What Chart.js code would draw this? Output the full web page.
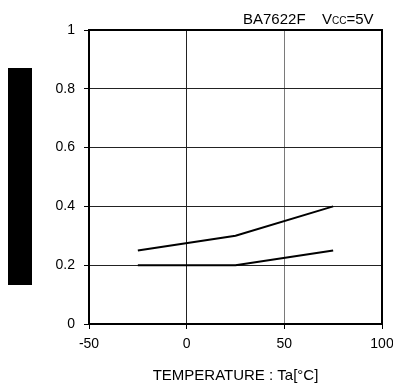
<!DOCTYPE html>
<html>
<head>
<meta charset="utf-8">
<script src="https://cdn.jsdelivr.net/npm/chart.js@4/dist/chart.umd.min.js"></script>
<style>
html,body{margin:0;padding:0;background:#fff;}
#c{display:block;}
</style>
</head>
<body>
<canvas id="c" width="393" height="389"></canvas>
<script>
// Data
const temperatures = [-25, 25, 75];
const upperSeries = [0.25, 0.30, 0.40];
const lowerSeries = [0.20, 0.20, 0.25];
const xTickValues = [-50, 0, 50, 100];
const yTickValues = [0, 0.2, 0.4, 0.6, 0.8, 1];
const chartTitle = "BA7622F";
const supplyLabel = ["V", "CC", "=5V"];
const xAxisTitle = "TEMPERATURE : Ta[°C]";

const FONT = "Liberation Sans, Arial, sans-serif";

const extras = {
  id: 'extras',
  beforeDraw(chart) {
    const ctx = chart.ctx;
    ctx.save();
    ctx.fillStyle = '#fff';
    ctx.fillRect(0, 0, chart.width, chart.height);
    // redaction block on the left
    ctx.fillStyle = '#000';
    ctx.fillRect(8, 68, 24, 217);
    ctx.restore();
  },
  afterDraw(chart) {
    const ctx = chart.ctx;
    const a = chart.chartArea;
    ctx.save();
    // frame
    ctx.strokeStyle = '#000';
    ctx.lineWidth = 2;
    ctx.strokeRect(a.left, a.top, a.right - a.left, a.bottom - a.top);
    // title
    ctx.fillStyle = '#000';
    ctx.textBaseline = 'alphabetic';
    ctx.textAlign = 'left';
    ctx.font = '15px ' + FONT;
    ctx.fillText(chartTitle, 243, 23.5);
    let x = 322;
    ctx.fillText(supplyLabel[0], x, 23.5);
    x += ctx.measureText(supplyLabel[0]).width;
    ctx.font = '10px ' + FONT;
    ctx.fillText(supplyLabel[1], x, 23.5);
    x += ctx.measureText(supplyLabel[1]).width;
    ctx.font = '15px ' + FONT;
    ctx.fillText(supplyLabel[2], x, 23.5);
    // x axis title
    ctx.textAlign = 'center';
    ctx.textBaseline = 'middle';
    ctx.font = '15px ' + FONT;
    ctx.fillText(xAxisTitle, (a.left + a.right) / 2, 376);
    ctx.restore();
  }
};

new Chart(document.getElementById('c'), {
  type: 'line',
  data: {
    datasets: [
      {
        data: temperatures.map((t, i) => ({x: t, y: upperSeries[i]})),
        borderColor: '#000', borderWidth: 2, pointRadius: 0, tension: 0, fill: false
      },
      {
        data: temperatures.map((t, i) => ({x: t, y: lowerSeries[i]})),
        borderColor: '#000', borderWidth: 2, pointRadius: 0, tension: 0, fill: false
      }
    ]
  },
  options: {
    responsive: false,
    animation: false,
    devicePixelRatio: 1,
    layout: {padding: {top: 30, right: 11, left: 0, bottom: 0}},
    plugins: {legend: {display: false}, tooltip: {enabled: false}, title: {display: false}},
    scales: {
      x: {
        type: 'linear',
        min: -50, max: 100,
        afterBuildTicks: s => { s.ticks = xTickValues.map(v => ({value: v})); },
        afterFit: s => { s.height = 65; s.paddingLeft = 0; s.paddingRight = 0; },
        grid: {
          color: ctx => (ctx.tick && ctx.tick.value === 50) ? '#7a7a7a' : '#222',
          lineWidth: 1, tickLength: 5, drawTicks: true, tickColor: '#000'
        },
        border: {display: true, color: '#000', width: 2},
        ticks: {color: '#000', font: {family: FONT, size: 14}, padding: 7, maxRotation: 0, autoSkip: false,
                callback: v => String(v)}
      },
      y: {
        min: 0, max: 1,
        afterBuildTicks: s => { s.ticks = yTickValues.map(v => ({value: v})); },
        afterFit: s => { s.width = 89; s.paddingTop = 0; s.paddingBottom = 0; },
        grid: {color: '#222', lineWidth: 1, tickLength: 5, drawTicks: true, tickColor: '#000'},
        border: {display: true, color: '#000', width: 2},
        ticks: {color: '#000', font: {family: FONT, size: 14}, padding: 9, autoSkip: false,
                callback: v => String(v)}
      }
    }
  },
  plugins: [extras]
});
</script>
</body>
</html>
